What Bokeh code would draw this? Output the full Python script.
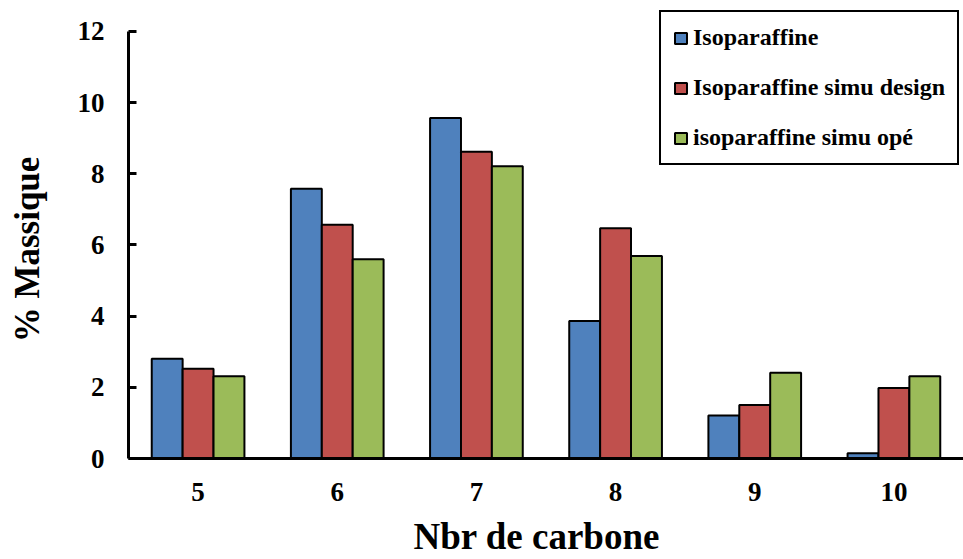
from bokeh.plotting import figure
from bokeh.models import Range1d, FactorRange, ColumnDataSource, Legend, LegendItem
from bokeh.transform import dodge
from bokeh.embed import file_html
from bokeh.resources import INLINE

categories = ["5", "6", "7", "8", "9", "10"]
iso = [2.80, 7.58, 9.57, 3.86, 1.21, 0.15]
iso_design = [2.52, 6.57, 8.62, 6.47, 1.50, 1.98]
iso_ope = [2.31, 5.60, 8.21, 5.69, 2.41, 2.31]
series_names = ["Isoparaffine", "Isoparaffine simu design", "isoparaffine simu opé"]
colors = ["#4F81BD", "#C0504D", "#9BBB59"]
y_ticks = [0, 2, 4, 6, 8, 10, 12]

FONT = "Liberation Serif"
NBSP = "\u00a0"

src = ColumnDataSource(dict(cat=categories, a=iso, b=iso_design, c=iso_ope))

# frame from y=5 to y=460 px; 0..12 occupies 31..460
y_top = 12 * 455 / 429

p = figure(width=963, height=559, x_range=FactorRange(*categories, range_padding=0),
           y_range=Range1d(0, y_top), output_backend="svg", toolbar_location=None,
           min_border_left=128, min_border_top=5, min_border_bottom=99, min_border_right=0)
p.outline_line_color = None
p.xgrid.grid_line_color = None
p.ygrid.grid_line_color = None
p.background_fill_color = "white"

bw = 0.222
renderers = []
for col, off, color in zip(["a", "b", "c"], [-bw, 0, bw], colors):
    r = p.vbar(x=dodge("cat", off, range=p.x_range), top=col, width=bw, source=src,
               fill_color=color, line_color="black", line_width=2)
    renderers.append(r)

# axes
p.yaxis.ticker = y_ticks
p.yaxis.bounds = (0, 12)
for ax in (p.xaxis[0], p.yaxis[0]):
    ax.axis_line_width = 3
    ax.axis_line_color = "black"
    ax.major_label_text_font = FONT
    ax.major_label_text_font_style = "bold"
    ax.major_label_text_font_size = "27px"
    ax.major_label_text_color = "black"
    ax.axis_label_text_font = FONT
    ax.axis_label_text_font_style = "bold"
    ax.axis_label_text_color = "black"
    ax.minor_tick_line_color = None

p.yaxis.major_tick_in = 8
p.yaxis.major_tick_out = 0
p.yaxis.major_tick_line_width = 3
p.yaxis.major_label_standoff = 24
p.yaxis.axis_label = "% Massique" + NBSP * 4
p.yaxis.axis_label_text_font_size = "35px"
p.yaxis.axis_label_standoff = 28

p.xaxis.major_tick_line_color = None
p.xaxis.major_label_standoff = 18
p.xaxis.axis_label = "Nbr de carbone" + NBSP * 2
p.xaxis.axis_label_text_font_size = "37px"
p.xaxis.axis_label_standoff = 12

items = [LegendItem(label=n, renderers=[r]) for n, r in zip(series_names, renderers)]
legend = Legend(items=items, location=(531, 293), orientation="vertical",
                label_text_font=FONT, label_text_font_style="bold",
                label_text_font_size="24px", label_text_color="black",
                glyph_width=15, glyph_height=14, label_standoff=5,
                label_height=24, spacing=23, padding=12, margin=0,
                border_line_color="black", border_line_width=2, border_line_alpha=1,
                background_fill_color="white", background_fill_alpha=1)
p.add_layout(legend, "center")

open("out.html", "w").write(file_html(p, INLINE))
